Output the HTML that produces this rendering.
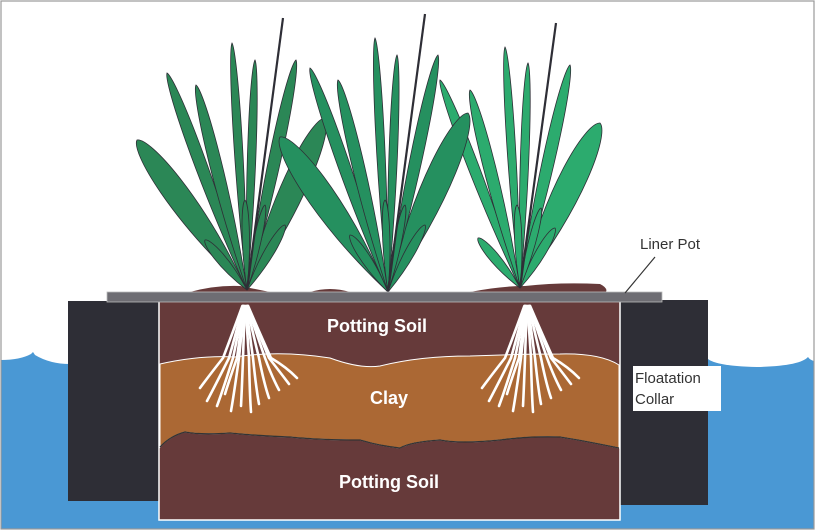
<!DOCTYPE html>
<html><head><meta charset="utf-8"><style>
html,body{margin:0;padding:0;background:#fff;width:816px;height:532px;overflow:hidden}
svg{display:block}
</style></head><body>
<svg id="s" width="816" height="532" viewBox="0 0 816 532" xmlns="http://www.w3.org/2000/svg">
<rect x="0" y="0" width="816" height="532" fill="#fff"/>
<!-- water -->
<rect x="1" y="352" width="813" height="177" fill="#4a98d4"/>
<path d="M1,352 L1,360 Q20,360 31,354 L33,352Z" fill="#fff"/>
<path d="M33,352 L35,355 Q50,364 70,364 L70,352Z" fill="#fff"/>
<path d="M706,352 L706,357 Q712,366 757,367 Q800,366 808,357 L808,352Z" fill="#fff"/>
<path d="M808,352 L808,357 Q810,360 814,361 L814,352Z" fill="#fff"/>
<!-- collar -->
<rect x="68" y="301" width="92" height="200" fill="#2e2e36"/>
<rect x="618" y="300" width="90" height="205" fill="#2e2e36"/>
<!-- pot -->
<rect x="159" y="301" width="461" height="219" fill="#663a3a" stroke="#fff" stroke-width="1.5"/>
<path d="M160,364 Q200,355 235,357 Q280,350 330,358 Q360,369 380,366 Q420,356 470,356 Q520,354 560,354 Q600,353 619,365 L619,448 Q580,440 560,437 Q530,436 500,440 Q460,444 440,440 Q410,442 400,448 Q380,446 360,440 Q320,440 290,437 Q260,436 230,433 Q200,435 185,432 Q170,436 160,447Z" fill="#ab6834" stroke="#fff" stroke-width="1"/>
<path d="M160,447 Q170,436 185,432 Q200,435 230,433 Q260,436 290,437 Q320,440 360,440 Q380,446 400,448 Q410,442 440,440 Q460,444 500,440 Q530,436 560,437 Q580,440 619,448" fill="none" stroke="#333" stroke-width="1.3"/>
<g id="roots" fill="none" stroke="#fff" stroke-width="2.6" stroke-linecap="round"></g>
<!-- soil mounds -->
<path d="M190,292 Q215,285 240,286 L270,292Z" fill="#663a3a"/>
<path d="M310,292 Q330,286 350,292Z" fill="#663a3a"/>
<path d="M470,292 Q500,286 525,286 Q560,282 600,284 Q608,288 606,292Z" fill="#663a3a"/>
<g id="plants" stroke="#2e2e36" stroke-width="0.8"></g>
<!-- liner -->
<rect x="107" y="292" width="555" height="10" fill="#6e6d73" stroke="#bbb" stroke-width="0.8"/>
<!-- labels -->
<line x1="655" y1="257" x2="625" y2="293" stroke="#333" stroke-width="1.2"/>
<text x="640" y="249" font-family="Liberation Sans, sans-serif" font-size="15" fill="#333">Liner Pot</text>
<rect x="633" y="366" width="88" height="45" fill="#fff"/>
<text x="635" y="383" font-family="Liberation Sans, sans-serif" font-size="15" fill="#333">Floatation</text>
<text x="635" y="404" font-family="Liberation Sans, sans-serif" font-size="15" fill="#333">Collar</text>
<g font-family="Liberation Sans, sans-serif" font-weight="bold" font-size="18" fill="#fff" text-anchor="middle">
<text x="377" y="332">Potting Soil</text>
<text x="389" y="404">Clay</text>
<text x="389" y="488">Potting Soil</text>
</g>
<rect x="1" y="1" width="813" height="528" fill="none" stroke="#999" stroke-width="1.2"/>
</svg>
<script>
var NS="http://www.w3.org/2000/svg";
function leaf(g,b,t,w,c){
 var dx=t[0]-b[0],dy=t[1]-b[1],L=Math.hypot(dx,dy),nx=-dy/L,ny=dx/L;
 var ax=b[0]+dx*0.55,ay=b[1]+dy*0.55,cx=b[0]+dx*0.97,cy=b[1]+dy*0.97;
 var d="M"+b[0]+","+b[1]+" C"+(ax+nx*w)+","+(ay+ny*w)+" "+(cx+nx*w*0.6)+","+(cy+ny*w*0.6)+" "+t[0]+","+t[1]+" C"+(cx-nx*w*0.6)+","+(cy-ny*w*0.6)+" "+(ax-nx*w)+","+(ay-ny*w)+" "+b[0]+","+b[1]+"Z";
 var p=document.createElementNS(NS,"path");p.setAttribute("d",d);p.setAttribute("fill",c);g.appendChild(p);
}
var g=document.getElementById("plants");
function plant(b,tips,c,line){
 tips.forEach(function(t){leaf(g,b,[t[0],t[1]],t[2],c);});
 var l=document.createElementNS(NS,"line");l.setAttribute("x1",b[0]);l.setAttribute("y1",b[1]);l.setAttribute("x2",line[0]);l.setAttribute("y2",line[1]);l.setAttribute("stroke","#2e2e36");l.setAttribute("stroke-width","2.2");g.appendChild(l);
}
plant([247,290],[[137,140,20],[325,118,20],[167,73,10],[196,85,10],[232,43,7],[255,60,7],[296,60,10],[205,240,8],[285,225,8],[245,200,6],[265,205,6]],"#2b8756",[283,18]);
plant([520,288],[[440,80,9],[600,123,22],[470,90,10],[505,47,7],[528,63,7],[570,65,10],[478,238,8],[555,228,8],[517,205,6],[541,208,6]],"#2cab6e",[556,23]);
plant([388,292],[[280,137,22],[468,113,22],[310,68,10],[338,80,10],[375,38,7],[397,55,7],[438,55,10],[350,235,8],[425,225,8],[385,200,6],[405,205,6]],"#25905f",[425,14]);
var r=document.getElementById("roots");
function roots(x0){
 var ends=[[-45,-22,82],[-38,-16,95],[-28,-12,100],[-14,-6,105],[-4,-2,100],[6,4,106],[14,8,98],[24,14,92],[34,20,84],[44,24,78],[52,26,72],[-20,-8,88]];
 ends.forEach(function(e){
  var p=document.createElementNS(NS,"path");
  var top=x0+e[1]*0.12;
  var midx=x0+e[1], midy=358;
  p.setAttribute("d","M"+top+",306 Q"+(x0+e[1]*0.6)+",335 "+midx+","+midy+" Q"+(x0+e[0]*0.8)+","+(306+e[2]*0.85)+" "+(x0+e[0])+","+(306+e[2]));
  r.appendChild(p);
 });
}
roots(245);roots(527);
</script>
</body></html>
